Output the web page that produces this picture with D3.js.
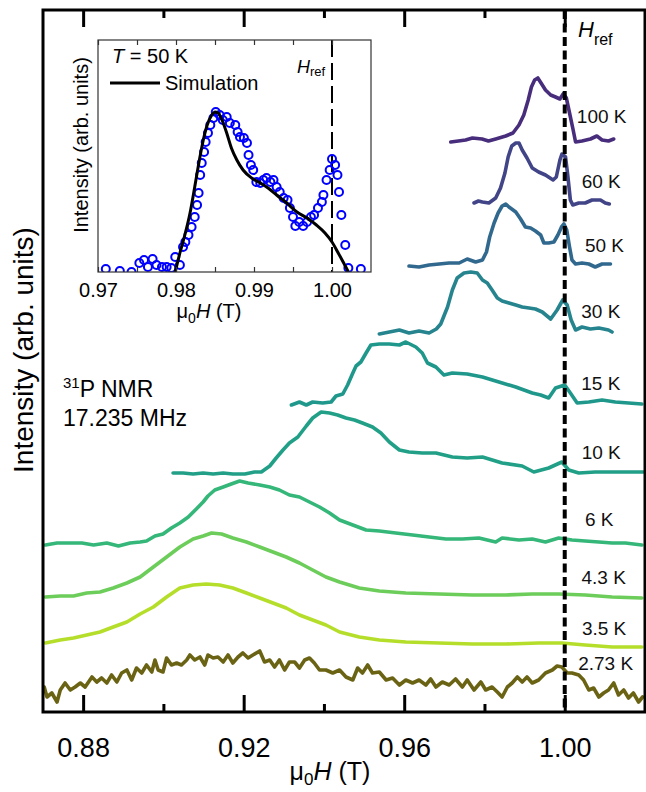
<!DOCTYPE html>
<html>
<head>
<meta charset="utf-8">
<script src="https://cdn.jsdelivr.net/npm/d3@7"></script>
<style>
  body { margin: 0; background: #fff; }
  svg { display: block; font-family: "Liberation Sans", Arial, sans-serif; }
</style>
</head>
<body>
<svg id="chart" width="646" height="792"></svg>
<script>
// 31P NMR spectra, [mu0H (T), intensity (arb. units, stacked)]
let s100 = [[0.9716,57.0],[0.9735,57.1],[0.9753,57.2],[0.9770,57.4],[0.9794,57.3],[0.9810,57.1],[0.9828,57.3],[0.9853,57.6],[0.9871,57.9],[0.9886,58.7],[0.9898,59.7],[0.9909,61.2],[0.9917,62.5],[0.9925,63.2],[0.9933,63.4],[0.9941,62.9],[0.9952,62.2],[0.9965,61.7],[0.9977,61.5],[0.9988,61.3],[0.9996,61.8],[1.0004,61.4],[1.0012,59.9],[1.0021,58.2],[1.0027,57.0],[1.0043,57.1],[1.0064,57.3],[1.0080,57.6],[1.0093,57.2],[1.0109,57.1],[1.0122,57.3]];
let s60 = [[0.9774,50.9],[0.9785,51.1],[0.9795,51.0],[0.9811,50.9],[0.9828,51.4],[0.9840,52.4],[0.9851,53.9],[0.9859,55.5],[0.9868,56.6],[0.9878,56.9],[0.9886,56.9],[0.9894,56.2],[0.9906,55.4],[0.9919,54.4],[0.9935,54.0],[0.9952,53.7],[0.9971,53.2],[0.9979,53.5],[0.9988,55.2],[0.9993,55.8],[1.0002,55.5],[1.0008,53.5],[1.0014,51.2],[1.0020,50.7],[1.0035,50.9],[1.0051,50.9],[1.0068,51.2],[1.0089,51.2],[1.0101,50.9],[1.0111,50.8]];
let s50 = [[0.9612,44.6],[0.9637,44.5],[0.9662,44.7],[0.9687,44.8],[0.9712,44.9],[0.9737,44.9],[0.9757,45.3],[0.9778,45.0],[0.9795,45.2],[0.9805,46.0],[0.9813,47.5],[0.9824,48.9],[0.9834,49.9],[0.9844,50.6],[0.9853,50.8],[0.9861,50.5],[0.9878,50.0],[0.9890,49.3],[0.9902,48.5],[0.9915,48.4],[0.9927,48.1],[0.9940,47.7],[0.9948,46.9],[0.9960,46.9],[0.9973,47.0],[0.9983,47.7],[0.9992,48.5],[0.9998,48.8],[1.0005,48.2],[1.0012,46.5],[1.0018,45.2],[1.0027,44.8],[1.0043,44.9],[1.0060,44.8],[1.0076,44.5],[1.0093,44.8],[1.0114,44.8]];
let s30 = [[0.9538,37.8],[0.9563,38.0],[0.9588,38.2],[0.9612,37.9],[0.9637,38.1],[0.9662,37.9],[0.9680,38.3],[0.9691,38.8],[0.9708,40.5],[0.9720,42.2],[0.9732,43.4],[0.9749,43.9],[0.9766,44.0],[0.9782,43.9],[0.9795,43.2],[0.9807,42.9],[0.9819,42.2],[0.9832,41.4],[0.9844,41.1],[0.9861,40.9],[0.9878,40.7],[0.9894,40.5],[0.9911,40.4],[0.9927,40.3],[0.9944,40.0],[0.9965,39.3],[0.9981,40.2],[0.9995,41.2],[1.0006,40.7],[1.0016,39.2],[1.0027,38.2],[1.0043,38.5],[1.0064,38.3],[1.0085,38.4],[1.0109,38.2],[1.0118,38.0]];
let s15 = [[0.9319,30.7],[0.9339,31.0],[0.9356,30.7],[0.9372,31.0],[0.9397,30.9],[0.9418,31.0],[0.9430,31.6],[0.9447,31.8],[0.9459,32.7],[0.9472,33.9],[0.9480,34.6],[0.9492,35.0],[0.9505,35.9],[0.9517,36.7],[0.9538,36.8],[0.9563,36.8],[0.9588,36.7],[0.9604,37.0],[0.9629,36.5],[0.9645,35.9],[0.9658,34.9],[0.9679,34.5],[0.9699,33.7],[0.9720,33.9],[0.9757,33.8],[0.9795,33.5],[0.9836,33.0],[0.9878,32.5],[0.9919,31.9],[0.9940,31.7],[0.9960,31.4],[0.9977,32.4],[1.0000,32.7],[1.0014,31.9],[1.0031,30.9],[1.0060,31.0],[1.0093,31.2],[1.0126,31.0],[1.0159,30.9],[1.0192,30.8]];
let s10 = [[0.9024,23.9],[0.9049,23.9],[0.9074,23.8],[0.9099,23.9],[0.9124,23.8],[0.9149,23.9],[0.9173,23.8],[0.9203,23.8],[0.9227,24.0],[0.9244,24.0],[0.9265,24.6],[0.9281,25.4],[0.9298,26.2],[0.9314,26.9],[0.9335,27.5],[0.9356,28.6],[0.9372,29.4],[0.9393,30.0],[0.9414,29.9],[0.9434,29.7],[0.9455,29.4],[0.9476,29.2],[0.9496,28.9],[0.9521,28.5],[0.9542,27.9],[0.9563,27.0],[0.9588,26.2],[0.9612,26.0],[0.9645,25.9],[0.9679,25.9],[0.9720,25.5],[0.9757,25.4],[0.9795,25.5],[0.9844,24.9],[0.9894,24.6],[0.9923,24.0],[0.9960,24.4],[0.9993,25.0],[1.0010,24.2],[1.0035,23.9],[1.0076,24.0],[1.0118,24.0],[1.0159,24.0],[1.0196,24.0]];
let s6 = [[0.8706,16.7],[0.8735,16.9],[0.8768,16.9],[0.8797,16.9],[0.8826,16.7],[0.8859,16.9],[0.8888,16.6],[0.8917,16.9],[0.8942,17.0],[0.8958,17.1],[0.8979,17.6],[0.8999,17.8],[0.9020,18.4],[0.9041,18.9],[0.9062,19.5],[0.9082,20.3],[0.9099,21.0],[0.9111,21.6],[0.9128,22.2],[0.9149,22.5],[0.9169,22.8],[0.9190,23.1],[0.9211,22.9],[0.9240,22.7],[0.9265,22.5],[0.9289,22.2],[0.9314,21.7],[0.9339,21.5],[0.9364,21.0],[0.9389,20.5],[0.9414,19.9],[0.9439,19.2],[0.9472,18.7],[0.9505,18.2],[0.9538,18.1],[0.9579,17.9],[0.9621,17.7],[0.9662,17.5],[0.9704,17.3],[0.9745,17.3],[0.9786,17.4],[0.9828,17.0],[0.9844,17.4],[0.9886,17.2],[0.9919,17.3],[0.9952,17.0],[0.9985,17.4],[1.0018,17.2],[1.0051,17.1],[1.0085,17.0],[1.0118,16.9],[1.0151,16.9],[1.0192,16.7]];
let s43 = [[0.8706,11.5],[0.8743,11.6],[0.8776,11.6],[0.8809,11.9],[0.8842,12.0],[0.8875,12.4],[0.8909,12.9],[0.8942,13.5],[0.8975,14.5],[0.9008,15.5],[0.9041,16.5],[0.9074,17.3],[0.9099,17.6],[0.9120,17.9],[0.9145,17.8],[0.9173,17.4],[0.9207,17.0],[0.9240,16.5],[0.9273,16.0],[0.9306,15.5],[0.9339,14.9],[0.9372,14.2],[0.9405,13.5],[0.9439,13.0],[0.9488,12.4],[0.9538,12.1],[0.9604,11.9],[0.9687,11.8],[0.9770,11.7],[0.9853,11.7],[0.9919,11.8],[0.9985,11.8],[1.0051,11.7],[1.0118,11.5],[1.0192,11.4]];
let s35 = [[0.8706,6.9],[0.8743,7.2],[0.8776,7.4],[0.8809,7.7],[0.8842,8.0],[0.8875,8.5],[0.8909,9.0],[0.8942,9.8],[0.8975,10.5],[0.9008,11.5],[0.9041,12.4],[0.9074,12.7],[0.9107,12.8],[0.9140,12.7],[0.9173,12.4],[0.9207,11.9],[0.9240,11.4],[0.9273,10.9],[0.9306,10.4],[0.9339,9.7],[0.9372,9.2],[0.9405,8.7],[0.9439,8.0],[0.9488,7.5],[0.9538,7.2],[0.9604,7.0],[0.9687,6.9],[0.9770,6.8],[0.9853,6.8],[0.9935,6.9],[0.9993,6.9],[1.0051,6.7],[1.0118,6.5],[1.0192,6.5]];
let s273 = [[0.8703,2.5],[0.8710,1.5],[0.8722,1.9],[0.8735,1.0],[0.8743,2.2],[0.8755,2.9],[0.8768,2.2],[0.8780,2.5],[0.8793,2.9],[0.8805,2.5],[0.8822,3.5],[0.8834,3.0],[0.8846,3.4],[0.8859,2.9],[0.8871,3.7],[0.8884,3.0],[0.8896,3.9],[0.8909,4.2],[0.8921,3.2],[0.8933,4.4],[0.8946,3.9],[0.8958,4.7],[0.8971,4.0],[0.8979,5.2],[0.8987,4.2],[0.8999,4.0],[0.9008,5.4],[0.9020,4.7],[0.9033,4.9],[0.9045,4.7],[0.9058,5.2],[0.9066,5.7],[0.9078,5.2],[0.9091,5.5],[0.9103,4.7],[0.9111,5.7],[0.9124,5.4],[0.9136,5.5],[0.9149,5.0],[0.9161,5.7],[0.9173,4.9],[0.9186,5.5],[0.9198,5.9],[0.9211,5.4],[0.9223,5.7],[0.9240,6.1],[0.9252,5.0],[0.9265,5.2],[0.9277,4.5],[0.9289,5.2],[0.9302,4.2],[0.9314,5.0],[0.9327,5.0],[0.9339,4.4],[0.9352,5.2],[0.9364,5.4],[0.9376,4.9],[0.9389,4.2],[0.9405,4.2],[0.9422,3.9],[0.9439,4.2],[0.9455,3.5],[0.9472,3.2],[0.9484,4.4],[0.9496,3.9],[0.9509,4.7],[0.9521,3.9],[0.9538,4.0],[0.9555,3.2],[0.9571,3.4],[0.9588,2.7],[0.9604,3.2],[0.9621,2.9],[0.9637,3.2],[0.9654,2.7],[0.9666,3.3],[0.9679,2.5],[0.9695,3.0],[0.9712,2.7],[0.9728,3.3],[0.9745,2.5],[0.9757,3.2],[0.9774,2.2],[0.9791,3.0],[0.9803,2.2],[0.9819,2.5],[0.9832,2.0],[0.9844,1.5],[0.9857,2.5],[0.9869,2.9],[0.9882,3.5],[0.9894,3.0],[0.9906,3.5],[0.9919,2.9],[0.9935,3.2],[0.9952,3.9],[0.9969,4.2],[0.9981,4.6],[0.9993,4.5],[1.0006,3.9],[1.0018,3.9],[1.0035,3.7],[1.0047,3.2],[1.0060,2.2],[1.0072,2.4],[1.0085,1.5],[1.0097,1.9],[1.0109,2.2],[1.0122,2.9],[1.0134,1.7],[1.0147,2.2],[1.0159,1.4],[1.0171,1.9],[1.0184,1.0],[1.0194,1.5]];

let temps = ["100 K", "60 K", "50 K", "30 K", "15 K", "10 K", "6 K", "4.3 K", "3.5 K", "2.73 K"];
let series = [s100, s60, s50, s30, s15, s10, s6, s43, s35, s273];
let colors = ["#472d7b", "#414487", "#31688e", "#26848e", "#1f988b", "#21a087", "#35b779", "#6ccd5a", "#b5de2b", "#6b6314"];
// where each temperature label sits (field, intensity)
let labelAt = [[1.0092,58.9],[1.0091,52.4],[1.0099,46.0],[1.0090,39.4],[1.0090,32.2],[1.0091,25.3],[1.0086,18.6],[1.0097,12.8],[1.0098,7.7],[1.0102,4.2]];
let xTicks = [0.88, 0.92, 0.96, 1.00];
let xMinor = [0.90, 0.94, 0.98];
let Href = 1.00;

// inset: T = 50 K spectrum and simulation
let inset50 = [[0.9710,0.3],[0.9728,0.1],[0.9743,0.0],[0.9753,0.9],[0.9759,1.2],[0.9764,0.5],[0.9770,1.3],[0.9775,0.7],[0.9782,0.5],[0.9788,0.5],[0.9794,0.4],[0.9799,1.5],[0.9805,0.7],[0.9809,2.5],[0.9812,3.0],[0.9816,3.7],[0.9820,4.5],[0.9824,5.5],[0.9827,6.7],[0.9829,7.9],[0.9831,9.7],[0.9833,10.9],[0.9836,12.0],[0.9838,13.0],[0.9841,13.9],[0.9844,14.7],[0.9848,15.4],[0.9851,16.0],[0.9856,15.7],[0.9860,15.2],[0.9865,15.5],[0.9869,14.9],[0.9876,14.7],[0.9879,14.0],[0.9882,13.5],[0.9887,13.4],[0.9891,12.9],[0.9893,11.7],[0.9896,10.7],[0.9899,10.2],[0.9903,9.0],[0.9908,8.9],[0.9912,9.2],[0.9916,9.4],[0.9921,9.0],[0.9925,9.2],[0.9929,8.5],[0.9933,8.0],[0.9938,7.4],[0.9943,7.2],[0.9946,6.4],[0.9950,5.5],[0.9953,4.6],[0.9958,5.0],[0.9963,4.6],[0.9968,5.0],[0.9973,5.5],[0.9977,5.7],[0.9982,6.4],[0.9987,7.0],[0.9989,7.7],[0.9993,9.2],[0.9997,10.2],[1.0000,11.3],[1.0004,10.7],[1.0007,9.7],[1.0009,8.0],[1.0012,5.7],[1.0017,2.7],[1.0021,0.4],[1.0037,0.3]];
let simulation = [[0.9799,0.0],[0.9805,1.9],[0.9812,3.9],[0.9818,5.9],[0.9824,8.5],[0.9830,11.2],[0.9835,13.2],[0.9840,14.7],[0.9846,15.7],[0.9850,16.0],[0.9854,15.9],[0.9860,15.0],[0.9865,13.9],[0.9871,12.4],[0.9878,11.2],[0.9886,10.2],[0.9897,9.4],[0.9908,8.9],[0.9918,8.4],[0.9929,7.7],[0.9942,6.9],[0.9955,6.0],[0.9968,5.4],[0.9980,4.7],[0.9991,3.9],[1.0000,3.0],[1.0008,1.9],[1.0015,0.9],[1.0021,0.0]];
let insetTicks = [0.97, 0.98, 0.99, 1.00];
let insetMinor = [0.975, 0.985, 0.995];

let svg = d3.select("#chart");
let font = "'Liberation Sans', Arial, sans-serif";

let x = d3.scaleLinear().domain([0.87, 1.02]).range([43, 645]);
let y = d3.scaleLinear().domain([0, 70.2]).range([712, 10]);
let line = d3.line().x(d => x(d[0])).y(d => y(d[1]));

// spectra
svg.append("g").selectAll("path")
    .data(series)
    .enter().append("path")
    .attr("d", line)
    .attr("fill", "none")
    .attr("stroke", (d, i) => colors[i])
    .attr("stroke-width", 3.6)
    .attr("stroke-linejoin", "round")
    .attr("stroke-linecap", "round");

// H_ref dashed line
svg.append("line")
    .attr("x1", x(Href)).attr("x2", x(Href))
    .attr("y1", y.range()[1]).attr("y2", y.range()[0])
    .attr("stroke", "#000")
    .attr("stroke-width", 4)
    .attr("stroke-dasharray", "9,4.5");

// temperature labels
svg.append("g").selectAll("text")
    .data(temps)
    .enter().append("text")
    .attr("x", (d, i) => x(labelAt[i][0]))
    .attr("y", (d, i) => y(labelAt[i][1]))
    .attr("text-anchor", "middle")
    .attr("font-size", 19)
    .attr("fill", "#111")
    .text(d => d);

// axes: inward ticks on bottom and top, frame round the plot
function styleAxis(g) {
  g.attr("font-size", null).attr("font-family", null);
  g.select(".domain").remove();
  g.selectAll("line").attr("stroke", "#000").attr("stroke-width", 3);
}

let gx = svg.append("g").attr("transform", "translate(0," + y.range()[0] + ")")
    .call(d3.axisBottom(x).tickValues(xTicks).tickFormat(d3.format(".2f"))
      .tickSizeInner(-17).tickSizeOuter(0).tickPadding(26));
styleAxis(gx);
gx.selectAll("text").attr("font-size", 27).attr("fill", "#000").attr("font-family", font);

let gxm = svg.append("g").attr("transform", "translate(0," + y.range()[0] + ")")
    .call(d3.axisBottom(x).tickValues(xMinor).tickFormat("").tickSizeInner(-8).tickSizeOuter(0));
styleAxis(gxm);

let gt = svg.append("g").attr("transform", "translate(0," + y.range()[1] + ")")
    .call(d3.axisTop(x).tickValues(xTicks).tickFormat("").tickSizeInner(-17).tickSizeOuter(0));
styleAxis(gt);
let gtm = svg.append("g").attr("transform", "translate(0," + y.range()[1] + ")")
    .call(d3.axisTop(x).tickValues(xMinor).tickFormat("").tickSizeInner(-8).tickSizeOuter(0));
styleAxis(gtm);

svg.append("rect")
    .attr("x", x.range()[0]).attr("y", y.range()[1])
    .attr("width", x.range()[1] - x.range()[0])
    .attr("height", y.range()[0] - y.range()[1])
    .attr("fill", "none")
    .attr("stroke", "#000")
    .attr("stroke-width", 3);

// axis titles
let xt = svg.append("text")
    .attr("x", 330).attr("y", 780)
    .attr("text-anchor", "middle")
    .attr("font-size", 25);
xt.append("tspan").text("\u03bc");
xt.append("tspan").attr("font-size", 17).attr("dy", 5).text("0");
xt.append("tspan").attr("font-style", "italic").attr("dy", -5).text("H");
xt.append("tspan").text(" (T)");

svg.append("text")
    .attr("transform", "translate(33,350) rotate(-90)")
    .attr("text-anchor", "middle")
    .attr("font-size", 28)
    .text("Intensity (arb. units)");

// H_ref label
let hr = svg.append("text").attr("x", 578).attr("y", 37).attr("font-size", 22);
hr.append("tspan").attr("font-style", "italic").text("H");
hr.append("tspan").attr("font-size", 16).attr("dy", 8).text("ref");

// nucleus / frequency note
let nm = svg.append("text").attr("x", 63).attr("y", 397).attr("font-size", 23);
nm.append("tspan").attr("font-size", 15).attr("dy", -9).text("31");
nm.append("tspan").attr("dy", 9).text("P NMR");
svg.append("text").attr("x", 63).attr("y", 426).attr("font-size", 23).text("17.235 MHz");

// ---------- inset ----------
let ix = d3.scaleLinear().domain([0.97, 1.005]).range([98, 371]);
let iy = d3.scaleLinear().domain([0, 23.2]).range([272, 40]);
let iline = d3.line().x(d => ix(d[0])).y(d => iy(d[1])).curve(d3.curveMonotoneX);

let inset = svg.append("g");
inset.append("rect")
    .attr("x", ix.range()[0]).attr("y", iy.range()[1])
    .attr("width", ix.range()[1] - ix.range()[0])
    .attr("height", iy.range()[0] - iy.range()[1])
    .attr("fill", "#fff");

svg.append("clipPath").attr("id", "insetClip")
  .append("rect")
    .attr("x", ix.range()[0]).attr("y", iy.range()[1])
    .attr("width", ix.range()[1] - ix.range()[0])
    .attr("height", iy.range()[0] - iy.range()[1]);

let plot = inset.append("g").attr("clip-path", "url(#insetClip)");

plot.append("line")
    .attr("x1", ix(Href)).attr("x2", ix(Href))
    .attr("y1", iy.range()[1]).attr("y2", iy.range()[0])
    .attr("stroke", "#000")
    .attr("stroke-width", 2)
    .attr("stroke-dasharray", "17,6");

plot.selectAll("circle")
    .data(inset50)
    .enter().append("circle")
    .attr("cx", d => ix(d[0]))
    .attr("cy", d => iy(d[1]))
    .attr("r", 4)
    .attr("fill", "none")
    .attr("stroke", "#0000ff")
    .attr("stroke-width", 2);

plot.append("path")
    .attr("d", iline(simulation))
    .attr("fill", "none")
    .attr("stroke", "#000")
    .attr("stroke-width", 3);

let ibx = inset.append("g").attr("transform", "translate(0," + iy.range()[0] + ")")
    .call(d3.axisBottom(ix).tickValues(insetTicks.concat(insetMinor)).tickFormat("")
      .tickSizeInner(-5).tickSizeOuter(0));
let ibl = inset.append("g").attr("transform", "translate(0," + iy.range()[0] + ")")
    .call(d3.axisBottom(ix).tickValues(insetTicks).tickFormat(d3.format(".2f"))
      .tickSize(0).tickPadding(11));
let itx = inset.append("g").attr("transform", "translate(0," + iy.range()[1] + ")")
    .call(d3.axisTop(ix).tickValues(insetTicks.concat(insetMinor)).tickFormat("")
      .tickSizeInner(-5).tickSizeOuter(0));
[ibx, ibl, itx].forEach(g => {
  g.attr("font-size", null).attr("font-family", null);
  g.select(".domain").remove();
  g.selectAll("line").attr("stroke", "#333").attr("stroke-width", 1.2);
});
ibl.selectAll("text").attr("font-size", 20).attr("fill", "#000").attr("font-family", font);

inset.append("rect")
    .attr("x", ix.range()[0]).attr("y", iy.range()[1])
    .attr("width", ix.range()[1] - ix.range()[0])
    .attr("height", iy.range()[0] - iy.range()[1])
    .attr("fill", "none")
    .attr("stroke", "#333")
    .attr("stroke-width", 1.2);

let ixt = inset.append("text").attr("x", 209).attr("y", 318)
    .attr("text-anchor", "middle").attr("font-size", 20);
ixt.append("tspan").text("\u03bc");
ixt.append("tspan").attr("font-size", 14).attr("dy", 5).text("0");
ixt.append("tspan").attr("font-style", "italic").attr("dy", -5).text("H");
ixt.append("tspan").text(" (T)");

inset.append("text")
    .attr("transform", "translate(88,145) rotate(-90)")
    .attr("text-anchor", "middle")
    .attr("font-size", 20)
    .text("Intensity (arb. units)");

let tt = inset.append("text").attr("x", 112).attr("y", 63).attr("font-size", 20);
tt.append("tspan").attr("font-style", "italic").text("T");
tt.append("tspan").text(" = 50 K");

inset.append("line")
    .attr("x1", 110).attr("x2", 160).attr("y1", 83).attr("y2", 83)
    .attr("stroke", "#000").attr("stroke-width", 3);
inset.append("text").attr("x", 165).attr("y", 90).attr("font-size", 20).text("Simulation");

let ihr = inset.append("text").attr("x", 297).attr("y", 73).attr("font-size", 18);
ihr.append("tspan").attr("font-style", "italic").text("H");
ihr.append("tspan").attr("font-size", 13).attr("dy", 3).text("ref");
</script>
</body>
</html>
